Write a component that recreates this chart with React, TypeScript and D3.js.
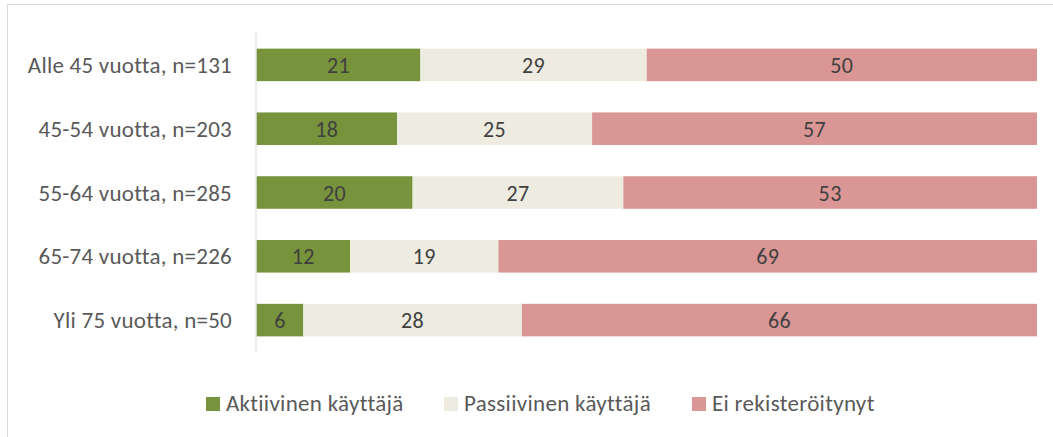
import React from "react";
import * as d3 from "d3";

const categories = ["Alle 45 vuotta, n=131", "45-54 vuotta, n=203", "55-64 vuotta, n=285", "65-74 vuotta, n=226", "Yli 75 vuotta, n=50"];
const seriesNames = ["Aktiivinen käyttäjä", "Passiivinen käyttäjä", "Ei rekisteröitynyt"];
const aktiivinen = [21, 18, 20, 12, 6];
const passiivinen = [29, 25, 27, 19, 28];
const eiRek = [50, 57, 53, 69, 66];
const colors = ["#77933C", "#EEECE1", "#D99694"];

const W = 1053, H = 437;
const FONT = "Carlito, Calibri, Lato, 'Open Sans', sans-serif";

export default function App() {
  const x = d3.scaleLinear().domain([0, 100]).range([256.5, 1037]);
  const y = d3.scaleBand<string>().domain(categories).range([33, 352]).paddingInner(0.49).paddingOuter(0.245);
  const stackData = categories.map((c, i) => ({ cat: c, a: aktiivinen[i], p: passiivinen[i], e: eiRek[i] }));
  const stack = d3.stack<any>().keys(["a", "p", "e"])(stackData);
  const legendX = [206, 444, 692];
  return (
    <svg width={W} height={H} style={{ position: "absolute", left: 0, top: 0, background: "#fff" }} fontFamily={FONT}>
      <rect x={7.5} y={4.5} width={1060} height={450} fill="none" stroke="#d9d9d9" strokeWidth={1} />
      {stack.map((layer, si) => (
        <g key={si}>
          {layer.map((d, i) => {
            const x0 = x(d[0]), x1 = x(d[1]);
            const yy = y(categories[i])!;
            return (
              <g key={i}>
                <rect x={x0} y={yy} width={x1 - x0} height={y.bandwidth()} fill={colors[si]} />
                <text x={(x0 + x1) / 2} y={yy + y.bandwidth() / 2} dy="0.37em" textAnchor="middle" fontSize={22} letterSpacing={0.4} fill="#404040">
                  {d[1] - d[0]}
                </text>
              </g>
            );
          })}
        </g>
      ))}
      <line x1={256} x2={256} y1={33} y2={352} stroke="#d9d9d9" strokeWidth={1} />
      {categories.map(c => (
        <text key={c} x={232} y={y(c)! + y.bandwidth() / 2} dy="0.35em" textAnchor="end" fontSize={23} letterSpacing={0.25} fill="#595959">{c}</text>
      ))}
      {seriesNames.map((s, i) => (
        <g key={s}>
          <rect x={legendX[i]} y={397} width={14} height={14} fill={colors[i]} />
          <text x={legendX[i] + 20} y={410.5} fontSize={23} letterSpacing={0.3} fill="#595959">{s}</text>
        </g>
      ))}
    </svg>
  );
}
